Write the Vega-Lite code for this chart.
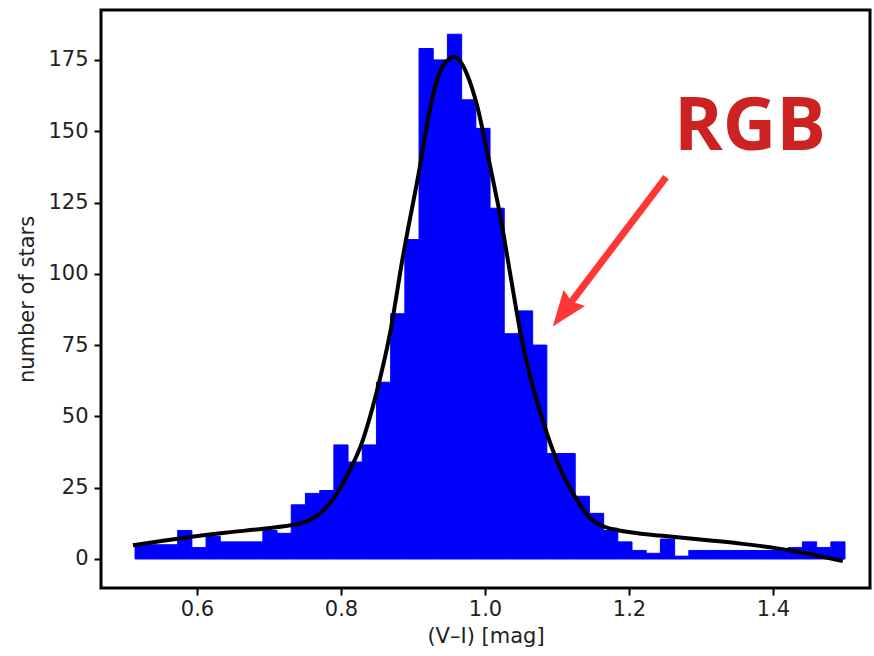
{
  "$schema": "https://vega.github.io/schema/vega-lite/v6.json",
  "width": 769,
  "height": 578,
  "autosize": {"type": "none"},
  "padding": {"left": 101, "top": 10, "right": 4, "bottom": 68},
  "background": "white",
  "config": {
    "view": {"stroke": "black", "strokeWidth": 3},
    "axis": {
      "domain": false,
      "grid": false,
      "ticks": true,
      "tickColor": "black",
      "tickWidth": 2,
      "tickSize": 7,
      "labelFont": "DejaVu Sans",
      "labelFontSize": 21,
      "labelColor": "#222222",
      "titleFont": "DejaVu Sans",
      "titleFontSize": 21,
      "titleFontWeight": "normal",
      "titleColor": "#222222"
    }
  },
  "datasets": {
    "hist": [
      {"x0": 0.5140, "x1": 0.5337, "count": 5},
      {"x0": 0.5337, "x1": 0.5534, "count": 5},
      {"x0": 0.5534, "x1": 0.5732, "count": 5},
      {"x0": 0.5732, "x1": 0.5929, "count": 10},
      {"x0": 0.5929, "x1": 0.6126, "count": 4},
      {"x0": 0.6126, "x1": 0.6323, "count": 8},
      {"x0": 0.6323, "x1": 0.6520, "count": 6},
      {"x0": 0.6520, "x1": 0.6718, "count": 6},
      {"x0": 0.6718, "x1": 0.6915, "count": 6},
      {"x0": 0.6915, "x1": 0.7112, "count": 10},
      {"x0": 0.7112, "x1": 0.7309, "count": 9},
      {"x0": 0.7309, "x1": 0.7506, "count": 19},
      {"x0": 0.7506, "x1": 0.7704, "count": 23},
      {"x0": 0.7704, "x1": 0.7901, "count": 24},
      {"x0": 0.7901, "x1": 0.8098, "count": 40},
      {"x0": 0.8098, "x1": 0.8295, "count": 34},
      {"x0": 0.8295, "x1": 0.8492, "count": 40},
      {"x0": 0.8492, "x1": 0.8690, "count": 62},
      {"x0": 0.8690, "x1": 0.8887, "count": 86},
      {"x0": 0.8887, "x1": 0.9084, "count": 112},
      {"x0": 0.9084, "x1": 0.9281, "count": 179},
      {"x0": 0.9281, "x1": 0.9478, "count": 175},
      {"x0": 0.9478, "x1": 0.9676, "count": 184},
      {"x0": 0.9676, "x1": 0.9873, "count": 161},
      {"x0": 0.9873, "x1": 1.0070, "count": 151},
      {"x0": 1.0070, "x1": 1.0267, "count": 123},
      {"x0": 1.0267, "x1": 1.0464, "count": 79},
      {"x0": 1.0464, "x1": 1.0662, "count": 87},
      {"x0": 1.0662, "x1": 1.0859, "count": 75},
      {"x0": 1.0859, "x1": 1.1056, "count": 37},
      {"x0": 1.1056, "x1": 1.1253, "count": 37},
      {"x0": 1.1253, "x1": 1.1450, "count": 22},
      {"x0": 1.1450, "x1": 1.1648, "count": 16},
      {"x0": 1.1648, "x1": 1.1845, "count": 10},
      {"x0": 1.1845, "x1": 1.2042, "count": 6},
      {"x0": 1.2042, "x1": 1.2239, "count": 3},
      {"x0": 1.2239, "x1": 1.2436, "count": 2},
      {"x0": 1.2436, "x1": 1.2634, "count": 7},
      {"x0": 1.2634, "x1": 1.2831, "count": 1},
      {"x0": 1.2831, "x1": 1.3028, "count": 3},
      {"x0": 1.3028, "x1": 1.3225, "count": 3},
      {"x0": 1.3225, "x1": 1.3422, "count": 3},
      {"x0": 1.3422, "x1": 1.3620, "count": 3},
      {"x0": 1.3620, "x1": 1.3817, "count": 3},
      {"x0": 1.3817, "x1": 1.4014, "count": 3},
      {"x0": 1.4014, "x1": 1.4211, "count": 3},
      {"x0": 1.4211, "x1": 1.4408, "count": 4},
      {"x0": 1.4408, "x1": 1.4606, "count": 6},
      {"x0": 1.4606, "x1": 1.4803, "count": 4},
      {"x0": 1.4803, "x1": 1.5000, "count": 6}
    ],
    "fit": [
      {"x": 0.511, "y": 4.8},
      {"x": 0.553, "y": 6.4},
      {"x": 0.593, "y": 7.8},
      {"x": 0.639, "y": 9.2},
      {"x": 0.692, "y": 10.6},
      {"x": 0.718, "y": 11.4},
      {"x": 0.750, "y": 12.9},
      {"x": 0.769, "y": 15.6},
      {"x": 0.789, "y": 21.0},
      {"x": 0.810, "y": 30},
      {"x": 0.829, "y": 40.7},
      {"x": 0.849, "y": 58},
      {"x": 0.868, "y": 79},
      {"x": 0.886, "y": 106},
      {"x": 0.907, "y": 134},
      {"x": 0.928, "y": 163},
      {"x": 0.942, "y": 173},
      {"x": 0.958, "y": 176},
      {"x": 0.975, "y": 170},
      {"x": 0.989, "y": 159},
      {"x": 1.004, "y": 141.6},
      {"x": 1.011, "y": 133},
      {"x": 1.021, "y": 120.6},
      {"x": 1.035, "y": 100},
      {"x": 1.051, "y": 77},
      {"x": 1.067, "y": 60},
      {"x": 1.086, "y": 44},
      {"x": 1.104, "y": 32},
      {"x": 1.125, "y": 21.8},
      {"x": 1.144, "y": 14.8},
      {"x": 1.165, "y": 11.4},
      {"x": 1.185, "y": 10.1},
      {"x": 1.204, "y": 9.3},
      {"x": 1.243, "y": 8.2},
      {"x": 1.285, "y": 7.2},
      {"x": 1.313, "y": 6.5},
      {"x": 1.358, "y": 5.3},
      {"x": 1.424, "y": 3.0},
      {"x": 1.497, "y": -0.7}
    ],
    "arrow": [
      {"x": 1.2514, "y": 133.9, "x2": 1.1128, "y2": 87.8}
    ],
    "head": [
      {"x": 1.1128, "y": 87.8}
    ],
    "label": [
      {"x": 1.368, "y": 143.4, "text": "RGB"}
    ]
  },
  "layer": [
    {
      "data": {"name": "hist"},
      "mark": {"type": "rect", "color": "#0000ff", "stroke": "#0000ff", "strokeWidth": 1},
      "encoding": {
        "x": {
          "field": "x0", "type": "quantitative",
          "scale": {"domain": [0.4667, 1.5347], "nice": false, "zero": false},
          "axis": {"values": [0.6, 0.8, 1.0, 1.2, 1.4], "format": ".1f", "title": "(V–I) [mag]", "labelPadding": 3, "titlePadding": 6}
        },
        "x2": {"field": "x1"},
        "y": {
          "field": "count", "type": "quantitative",
          "scale": {"domain": [-10.17, 192.5], "nice": false, "zero": false},
          "axis": {"values": [0, 25, 50, 75, 100, 125, 150, 175], "format": "d", "title": "number of stars", "labelPadding": 6, "titlePadding": 10}
        },
        "y2": {"datum": 0}
      }
    },
    {
      "data": {"name": "fit"},
      "mark": {"type": "line", "color": "black", "strokeWidth": 4, "interpolate": "monotone", "clip": true},
      "encoding": {
        "x": {"field": "x", "type": "quantitative"},
        "y": {"field": "y", "type": "quantitative"}
      }
    },
    {
      "data": {"name": "arrow"},
      "mark": {"type": "rule", "color": "#ff3636", "strokeWidth": 7},
      "encoding": {
        "x": {"field": "x", "type": "quantitative"},
        "y": {"field": "y", "type": "quantitative"},
        "x2": {"field": "x2"},
        "y2": {"field": "y2"}
      }
    },
    {
      "data": {"name": "head"},
      "mark": {"type": "point", "shape": "M0,-1L0.6,0.6L0,0.4L-0.6,0.6Z", "filled": true, "color": "#ff3636", "opacity": 1, "size": 2000, "angle": 217, "strokeWidth": 0},
      "encoding": {
        "x": {"field": "x", "type": "quantitative"},
        "y": {"field": "y", "type": "quantitative"}
      }
    },
    {
      "data": {"name": "label"},
      "mark": {"type": "text", "font": "Open Sans", "fontWeight": "bold", "fontSize": 74, "color": "#cc2222", "align": "center", "baseline": "alphabetic"},
      "encoding": {
        "x": {"field": "x", "type": "quantitative"},
        "y": {"field": "y", "type": "quantitative"},
        "text": {"field": "text"}
      }
    }
  ]
}
